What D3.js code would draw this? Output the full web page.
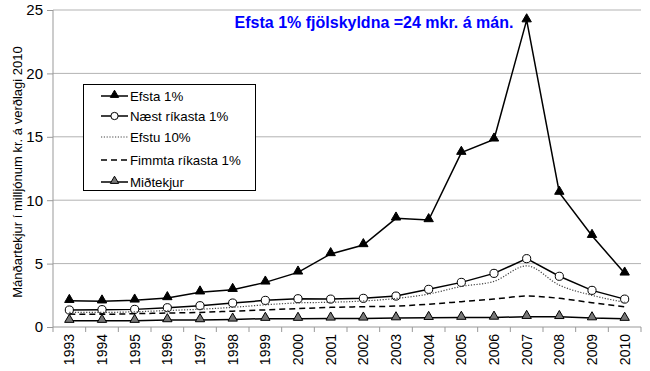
<!DOCTYPE html>
<html>
<head>
<meta charset="utf-8">
<script src="https://cdn.jsdelivr.net/npm/d3@7"></script>
<style>
body{margin:0;background:#fff;}
text{font-family:"Liberation Sans",Arial,sans-serif;}
</style>
</head>
<body>
<svg id="chart" width="650" height="371"></svg>
<script>
var years=["1993","1994","1995","1996","1997","1998","1999","2000","2001","2002","2003","2004","2005","2006","2007","2008","2009","2010"];
var efsta1=[2.07,2.03,2.1,2.29,2.74,2.94,3.52,4.31,5.76,6.47,8.57,8.44,13.75,14.8,24.2,10.6,7.2,4.23];
var naest1=[1.34,1.37,1.39,1.52,1.68,1.89,2.1,2.23,2.2,2.26,2.44,2.97,3.52,4.23,5.39,4.0,2.89,2.2];
var efstu10=[1.15,1.15,1.2,1.3,1.4,1.55,1.75,1.9,1.95,2.05,2.25,2.6,3.2,3.6,4.82,3.3,2.5,1.95];
var fimmta1=[1.02,1.0,1.05,1.1,1.15,1.25,1.35,1.45,1.55,1.6,1.65,1.8,2.0,2.2,2.44,2.26,1.92,1.6];
var midtekjur=[0.5,0.5,0.5,0.55,0.55,0.6,0.66,0.66,0.68,0.68,0.7,0.73,0.74,0.75,0.81,0.8,0.7,0.66];
var yTicks=[0,5,10,15,20,25];
var titleText="Efsta 1% fjölskyldna =24 mkr. á mán.";
var yLabel="Mánðartekjur í milljónum kr. á verðlagi 2010";

var series=[
  {name:"Efsta 1%",values:efsta1,dash:null,marker:"tri",fill:"#000",curve:d3.curveLinear},
  {name:"Næst ríkasta 1%",values:naest1,dash:null,marker:"circle",fill:"#fff",curve:d3.curveLinear},
  {name:"Efstu 10%",values:efstu10,dash:"1.2,1.6",marker:null,fill:null,curve:d3.curveMonotoneX},
  {name:"Fimmta ríkasta 1%",values:fimmta1,dash:"6,4",marker:null,fill:null,curve:d3.curveMonotoneX},
  {name:"Miðtekjur",values:midtekjur,dash:null,marker:"tri",fill:"#777",curve:d3.curveLinear}
];

var svg=d3.select("#chart");
var pl=53,pr=641,pt=10,pb=327;

var x=d3.scaleBand().domain(years).range([pl,pr]);
var y=d3.scaleLinear().domain([0,25]).range([pb,pt]);
var cx=function(i){return x(years[i])+x.bandwidth()/2;};

// grid
svg.append("g").selectAll("line").data(yTicks.slice(1)).enter().append("line")
  .attr("x1",pl).attr("x2",pr)
  .attr("y1",function(d){return y(d);}).attr("y2",function(d){return y(d);})
  .attr("stroke","#b3b3b3").attr("stroke-width",1);

// y axis
var yAxis=svg.append("g").attr("transform","translate("+pl+",0)")
  .call(d3.axisLeft(y).tickValues(yTicks).tickSize(6).tickPadding(4));
yAxis.select(".domain").attr("stroke","#999").attr("d","M0,"+pt+"V"+pb);
yAxis.selectAll(".tick line").attr("stroke","#999");
yAxis.selectAll("text").attr("font-size","15px").attr("fill","#000")
  .style("font-family","Liberation Sans, Arial, sans-serif");

// x axis
var xAxis=svg.append("g").attr("transform","translate(0,"+pb+")")
  .call(d3.axisBottom(x).tickSize(0));
xAxis.select(".domain").attr("stroke","#999").attr("d","M"+pl+",0H"+pr);
xAxis.selectAll("text").attr("font-size","14px").attr("fill","#000")
  .style("font-family","Liberation Sans, Arial, sans-serif")
  .attr("transform","rotate(-90)")
  .attr("text-anchor","end").attr("x",-7).attr("y",0).attr("dy","0.35em");
svg.append("g").selectAll("line").data(d3.range(years.length+1)).enter().append("line")
  .attr("x1",function(i){return pl+i*x.step();}).attr("x2",function(i){return pl+i*x.step();})
  .attr("y1",pb).attr("y2",pb+5).attr("stroke","#999");

// lines
function triPath(s){return d3.symbol().type(d3.symbolTriangle).size(s)();}
series.forEach(function(s){
  var line=d3.line().x(function(d,i){return cx(i);})
    .y(function(d){return y(d);}).curve(s.curve);
  svg.append("path").datum(s.values).attr("d",line).attr("fill","none")
    .attr("stroke",s.dash==="1.2,1.6"?"#444":"#000")
    .attr("stroke-width",s.dash==="1.2,1.6"?1.2:1.5)
    .attr("stroke-dasharray",s.dash);
  if(s.marker){
    var g=svg.append("g");
    g.selectAll("path").data(s.values).enter().append("path")
      .attr("transform",function(d,i){return "translate("+cx(i)+","+(y(d)-(s.marker==="tri"?1:0))+")";})
      .attr("d",s.marker==="tri"?triPath(38):d3.symbol().type(d3.symbolCircle).size(52)())
      .attr("fill",s.fill).attr("stroke","#000").attr("stroke-width",1);
  }
});

// legend
var lg=svg.append("g");
lg.append("rect").attr("x",83.5).attr("y",84.5).attr("width",172).attr("height",106)
  .attr("fill","#fff").attr("stroke","#000").attr("stroke-width",1);
var rowY=[96,116,137,160,182];
series.forEach(function(s,i){
  var ry=rowY[i];
  lg.append("line").attr("x1",101).attr("x2",128).attr("y1",ry).attr("y2",ry)
    .attr("stroke",s.dash==="1.2,1.6"?"#444":"#000").attr("stroke-width",s.dash==="1.2,1.6"?1.2:1.5)
    .attr("stroke-dasharray",s.dash);
  if(s.marker){
    lg.append("path").attr("transform","translate(114.5,"+(ry-(s.marker==="tri"?1:0))+")")
      .attr("d",s.marker==="tri"?triPath(30):d3.symbol().type(d3.symbolCircle).size(42)())
      .attr("fill",s.fill).attr("stroke","#000").attr("stroke-width",1);
  }
  lg.append("text").attr("x",130).attr("y",ry).attr("dy","0.35em")
    .attr("font-size","13.3px").text(s.name);
});

// title
svg.append("text").attr("x",374).attr("y",28).attr("text-anchor","middle")
  .attr("font-size","16px").attr("font-weight","bold").attr("fill","#0000ff").text(titleText);

// y label
svg.append("text").attr("transform","translate(22,172) rotate(-90)")
  .attr("text-anchor","middle").attr("font-size","13px").text(yLabel);
</script>
</body>
</html>
